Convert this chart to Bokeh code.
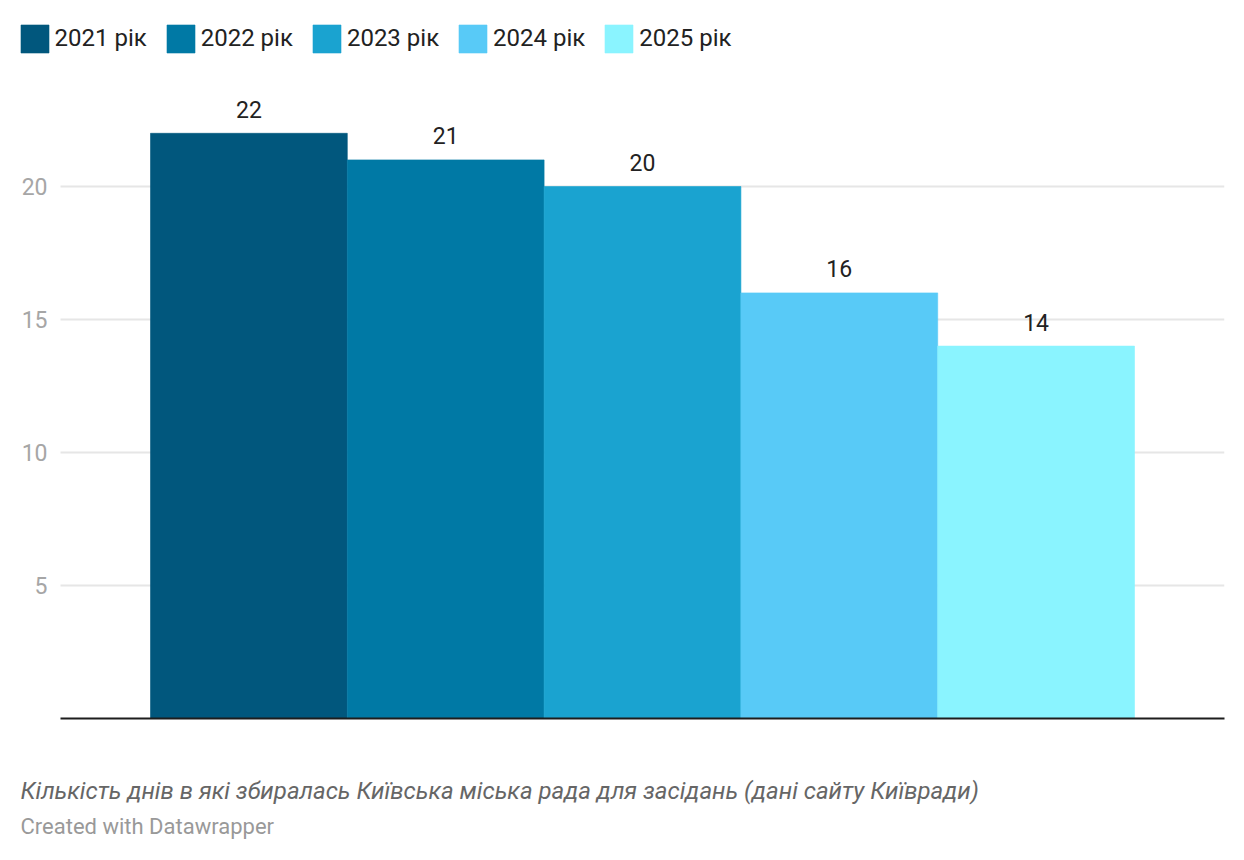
from bokeh.plotting import figure
from bokeh.models import ColumnDataSource, Range1d, FixedTicker, Grid, Label
from bokeh.embed import file_html
from bokeh.resources import INLINE
from bokeh.core.properties import value

# ---- data ----
years = ["2021 рік", "2022 рік", "2023 рік", "2024 рік", "2025 рік"]
days = [22, 21, 20, 16, 14]
colors = ["#01577d", "#0079a5", "#1aa3d0", "#58caf7", "#8af4ff"]
y_ticks = [5, 10, 15, 20]
baseline = [0]
caption = "Кількість днів в які збиралась Київська міська рада для засідань (дані сайту Київради)"
credit = "Created with Datawrapper"

FONT = "Roboto"

# layout (pixels)
W, H = 1244, 860
PX_UNIT_X = 196.8
PX_UNIT_Y = 26.6
FRAME_LEFT, FRAME_RIGHT = 10, 1224
ZERO_Y = 718          # pixel row of value 0
GRID_LEFT = 60
BAR_LEFT = 150

n = len(years)
x_start = -0.5 - (BAR_LEFT - FRAME_LEFT) / PX_UNIT_X
x_grid_start = -0.5 - (BAR_LEFT - GRID_LEFT) / PX_UNIT_X
x_end = n - 0.5 + (FRAME_RIGHT - (BAR_LEFT + n * PX_UNIT_X)) / PX_UNIT_X
y_start = -(H - ZERO_Y) / PX_UNIT_Y
y_end = ZERO_Y / PX_UNIT_Y

src = ColumnDataSource(dict(
    x=list(range(n)),
    top=days,
    color=colors,
    label=years,
    txt=[str(d) for d in days],
))

p = figure(width=W, height=H, output_backend="svg", toolbar_location=None,
           x_axis_location=None,
           x_range=Range1d(x_start, x_end),
           y_range=Range1d(y_start, y_end),
           min_border_left=FRAME_LEFT, min_border_right=W - FRAME_RIGHT,
           min_border_top=0, min_border_bottom=0)
p.outline_line_color = None
p.background_fill_color = "white"
p.border_fill_color = "white"

p.vbar(x="x", bottom=0, top="top", width=1.0, fill_color="color", line_color="color",
       line_width=0.6, source=src, legend_field="label")

p.text(x="x", y="top", text="txt", source=src, text_align="center",
       text_baseline="alphabetic", y_offset=-24, text_color="#222222",
       text_font=value(FONT), text_font_size="23px")

# y axis (labels drawn just left of the grid lines)
p.yaxis.ticker = FixedTicker(ticks=y_ticks)
p.yaxis.axis_line_color = None
p.yaxis.major_tick_line_color = None
p.yaxis.minor_tick_line_color = None
p.yaxis.major_tick_in = 0
p.yaxis.major_tick_out = 0
p.yaxis.major_label_standoff = -(47 - FRAME_LEFT)
p.yaxis.major_label_text_font = FONT
p.yaxis.major_label_text_font_size = "23px"
p.yaxis.major_label_text_color = "#a6a6a6"

# grid lines from x=60px to the right edge
p.xgrid.grid_line_color = None
p.ygrid.grid_line_color = "#e6e6e6"
p.ygrid.grid_line_width = 2
p.ygrid.cross_bounds = (x_grid_start, x_end)

base = Grid(dimension=1, ticker=FixedTicker(ticks=baseline), grid_line_color="#1d1d1d",
            grid_line_width=2, cross_bounds=(x_grid_start, x_end), level="annotation")
p.add_layout(base)

# legend
lg = p.legend[0]
lg.orientation = "horizontal"
lg.location = (20 - 3.5 - FRAME_LEFT, H - 20.5 - 35)
lg.padding = 0
lg.margin = 0
lg.spacing = 16
lg.glyph_width = 35
lg.glyph_height = 35
lg.label_height = 35
lg.label_standoff = 3
lg.label_text_font = FONT
lg.label_text_font_size = "24px"
lg.label_text_color = "#222222"
lg.label_text_baseline = "middle"
lg.border_line_color = None
lg.background_fill_alpha = 0

# caption and credit
p.add_layout(Label(x=20 - FRAME_LEFT, y=H - 790, x_units="screen", y_units="screen",
                   text=caption, text_font=FONT, text_font_size="24px",
                   text_font_style="italic", text_color="#666666",
                   text_baseline="middle"))
p.add_layout(Label(x=20 - FRAME_LEFT, y=H - 826, x_units="screen", y_units="screen",
                   text=credit, text_font=FONT, text_font_size="22px",
                   text_color="#999999", text_baseline="middle"))

open("out.html", "w").write(file_html(p, INLINE))
